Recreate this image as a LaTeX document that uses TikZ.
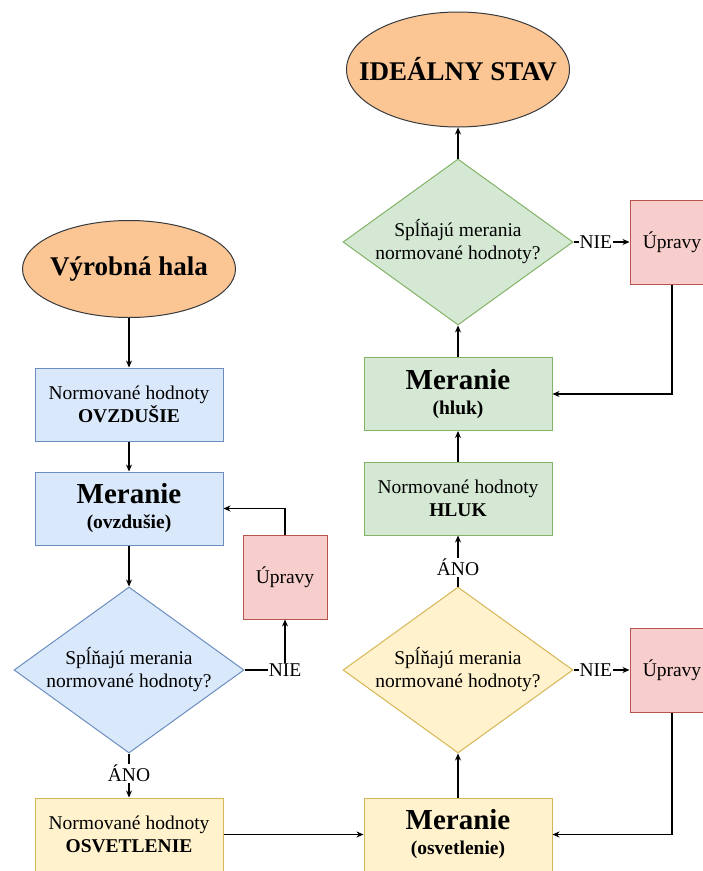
\documentclass[tikz,border=0pt]{standalone}
\usepackage{fontspec}
\setmainfont{Liberation Serif}
\usepackage{tikz}
\usetikzlibrary{shapes,arrows.meta}
\usetikzlibrary{positioning}
\usepackage{xcolor}
\definecolor{blueFill}{HTML}{DAE8FC}
\definecolor{blueLine}{HTML}{6C8EBF}
\definecolor{greenFill}{HTML}{D5E8D4}
\definecolor{greenLine}{HTML}{82B366}
\definecolor{yellowFill}{HTML}{FFF2CC}
\definecolor{yellowLine}{HTML}{D6B656}
\definecolor{redFill}{HTML}{F8CECC}
\definecolor{redLine}{HTML}{B85450}
\definecolor{ellFill}{HTML}{FBC594}
\definecolor{ellLine}{HTML}{36393D}

\begin{document}
\begin{tikzpicture}[x=1pt, y=1pt, on grid, >={Stealth[length=7pt,width=6pt]},
  every node/.style={font=\fontsize{19.5}{23}\selectfont},
  terminal/.style={ellipse, draw=ellLine, fill=ellFill, line width=1pt, inner xsep=-30pt,
    inner ysep=0pt, font=\fontsize{27}{30}\selectfont\bfseries},
  box/.style={rectangle, draw, line width=1pt, minimum width=188pt, minimum height=73pt,
    inner sep=0pt, align=center},
  decision/.style={diamond, draw, line width=1pt, minimum width=230pt, minimum height=166pt,
    aspect=1.39, inner sep=0pt, align=center},
  fix/.style={rectangle, draw=redLine, fill=redFill, line width=1pt, minimum width=84pt,
    minimum height=84pt, inner sep=0pt},
  lbl/.style={fill=white, inner sep=1pt},
  line/.style={line width=1.1pt}]
  \useasboundingbox (0,0) rectangle (703,-871);

  % Left column (ovzdusie)
  \node[terminal, minimum width=213pt, minimum height=97pt] (vh) at (129,-269) {Výrobná hala};
  \node[box, fill=blueFill, draw=blueLine] (ovzN) [below=135.5pt of vh] {Normované hodnoty\\\textbf{OVZDUŠIE}};
  \node[box, fill=blueFill, draw=blueLine] (ovzM) [below=104pt of ovzN] {{\fontsize{29}{30}\selectfont\bfseries Meranie}\\[2pt]\textbf{(ovzdušie)}};
  \node[decision, fill=blueFill, draw=blueLine] (ovzD) [below=161.5pt of ovzM] {Spĺňajú merania\\normované hodnoty?};
  \node[fix] (ovzU) [above right=93pt and 156pt of ovzD] {Úpravy};
  \node[box, fill=yellowFill, draw=yellowLine] (osvN) [below=164.5pt of ovzD] {Normované hodnoty\\\textbf{OSVETLENIE}};

  % Right column (osvetlenie, hluk)
  \node[box, fill=yellowFill, draw=yellowLine] (osvM) [right=329pt of osvN] {{\fontsize{29}{30}\selectfont\bfseries Meranie}\\[2pt]\textbf{(osvetlenie)}};
  \node[decision, fill=yellowFill, draw=yellowLine] (osvD) [above=164.5pt of osvM] {Spĺňajú merania\\normované hodnoty?};
  \node[fix] (osvU) [right=214pt of osvD] {Úpravy};
  \node[box, fill=greenFill, draw=greenLine] (hlukN) [above=171.5pt of osvD] {Normované hodnoty\\\textbf{HLUK}};
  \node[box, fill=greenFill, draw=greenLine] (hlukM) [above=104.5pt of hlukN] {{\fontsize{29}{30}\selectfont\bfseries Meranie}\\[2pt]\textbf{(hluk)}};
  \node[decision, fill=greenFill, draw=greenLine] (hlukD) [above=152pt of hlukM] {Spĺňajú merania\\normované hodnoty?};
  \node[fix] (hlukU) [right=214pt of hlukD] {Úpravy};
  \node[terminal, minimum width=223pt, minimum height=115pt] (ideal) [above=172.5pt of hlukD] {IDEÁLNY STAV};

  \path[->, line]
    (vh) edge (ovzN)
    (ovzN) edge (ovzM)
    (ovzM) edge (ovzD)
    (ovzD) edge node[lbl, pos=0.45] {ÁNO} (osvN)
    (osvN) edge (osvM)
    (osvM) edge (osvD)
    (osvD) edge node[lbl, pos=0.4] {NIE} (osvU)
    (osvD) edge node[lbl, pos=0.38] {ÁNO} (hlukN)
    (hlukN) edge (hlukM)
    (hlukM) edge (hlukD)
    (hlukD) edge node[lbl, pos=0.4] {NIE} (hlukU)
    (hlukD) edge (ideal);

  % Loops back from corrections
  \draw[->, line] (ovzD.east) -| node[lbl, pos=0.5] {NIE} (ovzU.south);
  \draw[->, line] (ovzU.north) |- (ovzM.east);
  \draw[->, line] (osvU.south) |- (osvM.east);
  \draw[->, line] (hlukU.south) |- (hlukM.east);
\end{tikzpicture}
\end{document}
